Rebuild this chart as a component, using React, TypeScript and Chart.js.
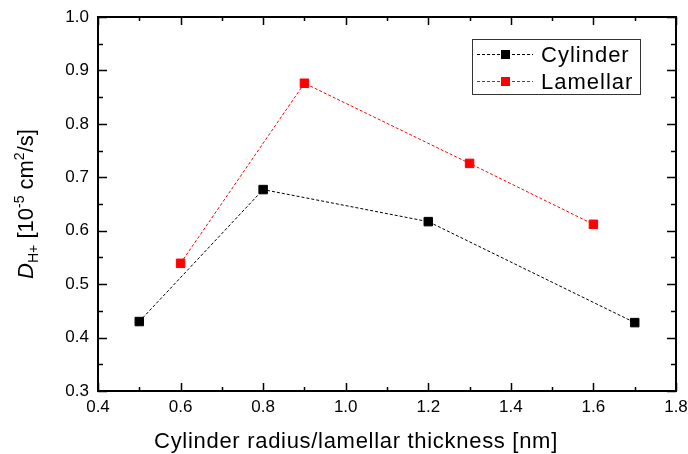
import React, { useEffect, useRef } from 'react';
import { Chart, registerables } from 'chart.js';

Chart.register(...registerables);

// ---- data ----
const cylinderX = [0.5, 0.8, 1.2, 1.7];
const cylinderY = [0.43, 0.677, 0.617, 0.428];
const lamellarX = [0.6, 0.9, 1.3, 1.6];
const lamellarY = [0.539, 0.876, 0.726, 0.612];
const seriesNames = ['Cylinder', 'Lamellar'];
const seriesColors = ['#000000', '#ff0000'];

const xTickValues = [0.4, 0.6, 0.8, 1.0, 1.2, 1.4, 1.6, 1.8];
const yTickValues = [0.3, 0.4, 0.5, 0.6, 0.7, 0.8, 0.9, 1.0];
const xTitle = 'Cylinder radius/lamellar thickness [nm]';
const yTitleParts = [
  { text: 'D', kind: 'italic' },
  { text: 'H+', kind: 'sub' },
  { text: ' [10', kind: 'normal' },
  { text: '-5', kind: 'sup' },
  { text: ' cm', kind: 'normal' },
  { text: '2', kind: 'sup' },
  { text: '/s]', kind: 'normal' },
];

const FAMILY = '"Liberation Sans", Arial, Helvetica, sans-serif';

const midpoints = (arr: number[]) => arr.slice(0, -1).map((v, i) => (v + arr[i + 1]) / 2);

const framePlugin = {
  id: 'frameTicks',
  afterDatasetsDraw(chart: any) {
    const { ctx, chartArea: a, scales } = chart;
    const xs = scales.x;
    const ys = scales.y;
    ctx.save();
    ctx.strokeStyle = '#000';
    ctx.lineWidth = 2;
    ctx.setLineDash([]);
    ctx.strokeRect(a.left, a.top, a.right - a.left, a.bottom - a.top);
    ctx.lineWidth = 1.5;
    const drawX = (vals: number[], len: number) => {
      vals.forEach((v) => {
        const px = Math.round(xs.getPixelForValue(v)) + 0.5;
        ctx.beginPath();
        ctx.moveTo(px, a.bottom);
        ctx.lineTo(px, a.bottom - len);
        ctx.moveTo(px, a.top);
        ctx.lineTo(px, a.top + len);
        ctx.stroke();
      });
    };
    const drawY = (vals: number[], len: number) => {
      vals.forEach((v) => {
        const py = Math.round(ys.getPixelForValue(v)) + 0.5;
        ctx.beginPath();
        ctx.moveTo(a.left, py);
        ctx.lineTo(a.left + len, py);
        ctx.moveTo(a.right, py);
        ctx.lineTo(a.right - len, py);
        ctx.stroke();
      });
    };
    drawX(xTickValues, 8);
    drawX(midpoints(xTickValues), 4);
    drawY(yTickValues, 9);
    drawY(midpoints(yTickValues), 5);
    ctx.restore();
  },
};

const legendPlugin = {
  id: 'boxLegend',
  afterDraw(chart: any) {
    const { ctx } = chart;
    const bx = 472, by = 39.5, bw = 168, bh = 55;
    ctx.save();
    ctx.fillStyle = '#fff';
    ctx.fillRect(bx, by, bw, bh);
    ctx.strokeStyle = '#333';
    ctx.lineWidth = 1;
    ctx.strokeRect(bx + 0.5, by, bw, bh);
    chart.data.datasets.forEach((ds: any, i: number) => {
      const cy = 54.5 + i * 27;
      ctx.strokeStyle = ds.borderColor;
      ctx.lineWidth = 1;
      ctx.setLineDash([3, 2]);
      ctx.beginPath();
      ctx.moveTo(477, cy);
      ctx.lineTo(533, cy);
      ctx.stroke();
      ctx.setLineDash([]);
      ctx.fillStyle = ds.backgroundColor;
      ctx.fillRect(505.5 - 4.5, cy - 4.5, 9, 9);
      ctx.fillStyle = '#000';
      ctx.font = `22px ${FAMILY}`;
      (ctx as any).letterSpacing = '1px';
      ctx.textBaseline = 'middle';
      ctx.textAlign = 'left';
      ctx.fillText(ds.label, 541, cy + 1);
      (ctx as any).letterSpacing = '0px';
    });
    ctx.restore();
  },
};

const titlesPlugin = {
  id: 'titles',
  afterDraw(chart: any) {
    const { ctx } = chart;
    // x-axis title
    ctx.save();
    ctx.fillStyle = '#000';
    ctx.font = `22px ${FAMILY}`;
    (ctx as any).letterSpacing = '0.7px';
    ctx.textAlign = 'center';
    ctx.textBaseline = 'alphabetic';
    ctx.fillText(xTitle, 356, 448);
    (ctx as any).letterSpacing = '0px';
    ctx.restore();

    // y-axis title (rich text)
    const fontFor = (kind: string) =>
      kind === 'italic' ? `italic 22px ${FAMILY}` : kind === 'normal' ? `22px ${FAMILY}` : `14px ${FAMILY}`;
    const shiftFor = (kind: string) => (kind === 'sub' ? 5 : kind === 'sup' ? -9 : 0);
    ctx.save();
    let total = 0;
    yTitleParts.forEach((p) => {
      ctx.font = fontFor(p.kind);
      total += ctx.measureText(p.text).width;
    });
    const centerY = 204;
    const baseX = 33;
    ctx.translate(baseX, centerY);
    ctx.rotate(-Math.PI / 2);
    ctx.fillStyle = '#000';
    ctx.textBaseline = 'alphabetic';
    ctx.textAlign = 'left';
    let x = -total / 2;
    yTitleParts.forEach((p) => {
      ctx.font = fontFor(p.kind);
      ctx.fillText(p.text, x, shiftFor(p.kind));
      x += ctx.measureText(p.text).width;
    });
    ctx.restore();
  },
};

export default function App() {
  const canvasRef = useRef<HTMLCanvasElement | null>(null);

  useEffect(() => {
    document.body.style.margin = '0';
    const canvas = canvasRef.current;
    if (!canvas) return;
    const mk = (xs: number[], ys: number[]) => xs.map((x, i) => ({ x, y: ys[i] }));
    const chart = new Chart(canvas, {
      type: 'scatter',
      data: {
        datasets: [
          {
            label: seriesNames[0],
            data: mk(cylinderX, cylinderY),
            borderColor: seriesColors[0],
            backgroundColor: seriesColors[0],
            borderWidth: 1,
            borderDash: [3, 2],
            showLine: true,
            pointStyle: 'rect',
            pointRadius: 6,
            pointBorderWidth: 1,
          },
          {
            label: seriesNames[1],
            data: mk(lamellarX, lamellarY),
            borderColor: seriesColors[1],
            backgroundColor: seriesColors[1],
            borderWidth: 1,
            borderDash: [3, 2],
            showLine: true,
            pointStyle: 'rect',
            pointRadius: 6,
            pointBorderWidth: 1,
          },
        ],
      },
      options: {
        responsive: false,
        animation: false,
        devicePixelRatio: 1,
        layout: { padding: { left: 0, right: 12, top: 17, bottom: 0 } },
        plugins: {
          legend: { display: false },
          tooltip: { enabled: false },
        },
        scales: {
          x: {
            type: 'linear',
            min: 0.4,
            max: 1.8,
            afterBuildTicks: (s: any) => {
              s.ticks = xTickValues.map((v) => ({ value: v }));
            },
            afterFit: (s: any) => {
              s.height = 63;
              s.paddingLeft = 0;
              s.paddingRight = 0;
            },
            grid: { display: false, drawTicks: false },
            border: { display: false },
            ticks: {
              callback: (v: any) => Number(v).toFixed(1),
              font: { family: FAMILY, size: 17 },
              color: '#000',
              padding: 6,
              maxRotation: 0,
              autoSkip: false,
            },
            title: { display: false },
          },
          y: {
            type: 'linear',
            min: 0.3,
            max: 1.0,
            afterBuildTicks: (s: any) => {
              s.ticks = yTickValues.map((v) => ({ value: v }));
            },
            afterFit: (s: any) => {
              s.width = 98;
              s.paddingTop = 0;
              s.paddingBottom = 0;
            },
            grid: { display: false, drawTicks: false },
            border: { display: false },
            ticks: {
              callback: (v: any) => Number(v).toFixed(1),
              font: { family: FAMILY, size: 17 },
              color: '#000',
              padding: 9,
              autoSkip: false,
            },
          },
        },
      },
      plugins: [framePlugin, legendPlugin, titlesPlugin],
    } as any);
    return () => chart.destroy();
  }, []);

  return (
    <div style={{ width: 688, height: 454, background: '#fff' }}>
      <canvas ref={canvasRef} width={688} height={454} style={{ display: 'block', width: 688, height: 454 }} />
    </div>
  );
}
